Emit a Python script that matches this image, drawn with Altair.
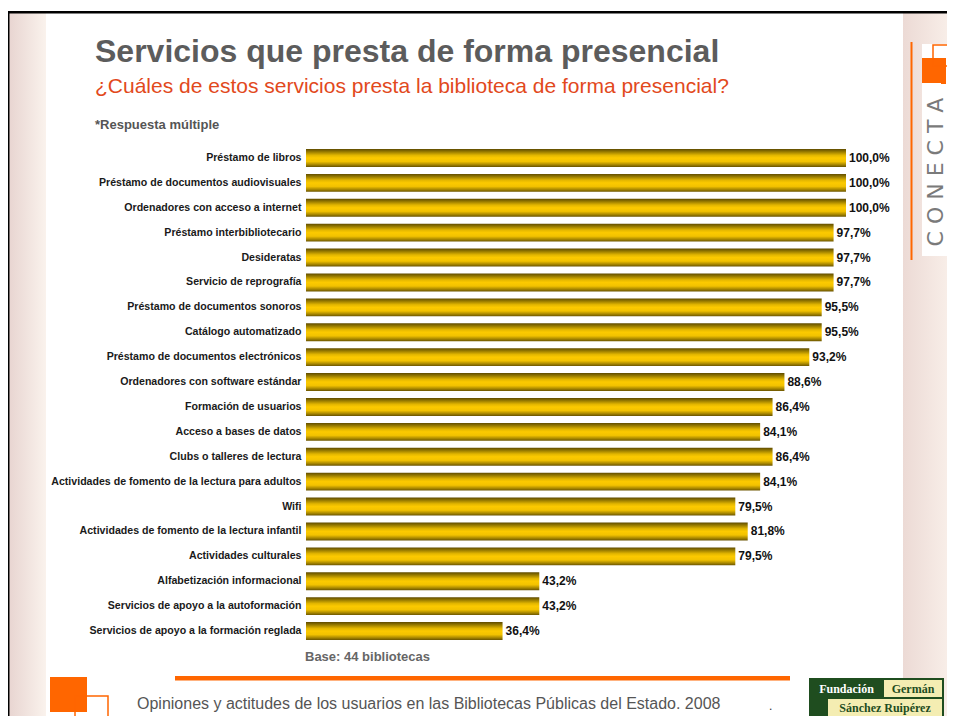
import altair as alt
import pandas as pd

# ---- data ----
categories = [
    "Préstamo de libros",
    "Préstamo de documentos audiovisuales",
    "Ordenadores con acceso a internet",
    "Préstamo interbibliotecario",
    "Desideratas",
    "Servicio de reprografía",
    "Préstamo de documentos sonoros",
    "Catálogo automatizado",
    "Préstamo de documentos electrónicos",
    "Ordenadores con software estándar",
    "Formación de usuarios",
    "Acceso a bases de datos",
    "Clubs o talleres de lectura",
    "Actividades de fomento de la lectura para adultos",
    "Wifi",
    "Actividades de fomento de la lectura infantil",
    "Actividades culturales",
    "Alfabetización informacional",
    "Servicios de apoyo a la autoformación",
    "Servicios de apoyo a la formación reglada",
]
values = [100.0, 100.0, 100.0, 97.7, 97.7, 97.7, 95.5, 95.5, 93.2, 88.6,
          86.4, 84.1, 86.4, 84.1, 79.5, 81.8, 79.5, 43.2, 43.2, 36.4]
value_labels = [f"{v:.1f}".replace(".", ",") + "%" for v in values]

title_text = "Servicios que presta de forma presencial"
subtitle_text = "¿Cuáles de estos servicios presta la biblioteca de forma presencial?"
note_text = "*Respuesta múltiple"
base_text = "Base: 44 bibliotecas"
footer_text = "Opiniones y actitudes de los usuarios en las Bibliotecas Públicas del Estado. 2008"

df = pd.DataFrame({"cat": categories, "val": values, "lab": value_labels})

# ---- layout helpers (page px -> plot px) ----
OX, OY = 306, 145.5
W, H = 540, 498
TOTAL_W, TOTAL_H = 939, 708
one = pd.DataFrame({"k": [0]})
FONT = "Liberation Sans"


def px(x):
    return x - OX


def py(y):
    return y - OY


def rect(x1, y1, x2, y2, color, filled=True, sw=1.5):
    kw = dict(color=color) if filled else dict(filled=False, stroke=color, strokeWidth=sw)
    return alt.Chart(one).mark_rect(**kw).encode(
        x=alt.value(px(x1)), x2=alt.value(px(x2)),
        y=alt.value(py(y1)), y2=alt.value(py(y2)))


def text(t, x, y, size, color, weight="normal", align="left", baseline="alphabetic",
         angle=0, font=FONT):
    kw = dict(text=t, fontSize=size, color=color, fontWeight=weight, align=align,
              baseline=baseline, font=font)
    if angle:
        kw["angle"] = angle
    return alt.Chart(one).mark_text(**kw).encode(x=alt.value(px(x)), y=alt.value(py(y)))


def hgrad(c1, c2):
    return alt.LinearGradient(gradient="linear", x1=0, x2=1, y1=0, y2=0,
                              stops=[alt.GradientStop(offset=0, color=c1),
                                     alt.GradientStop(offset=1, color=c2)])


gold = alt.LinearGradient(
    gradient="linear", x1=0, x2=0, y1=0, y2=1,
    stops=[
        alt.GradientStop(offset=0.0, color="#5f4b00"),
        alt.GradientStop(offset=0.12, color="#8a7000"),
        alt.GradientStop(offset=0.35, color="#e2b600"),
        alt.GradientStop(offset=0.5, color="#fcca00"),
        alt.GradientStop(offset=0.7, color="#f2c200"),
        alt.GradientStop(offset=0.88, color="#a58500"),
        alt.GradientStop(offset=1.0, color="#6a5400"),
    ],
)

# ---- background ----
bg = [
    rect(9, 13, 955, 724, "#f8efea"),
    rect(9, 13, 48, 724, hgrad("#e8d5d1", "#fbf4ee")),
    rect(903, 13, 955, 724, hgrad("#ecdad5", "#faf1eb")),
    rect(46, 13, 903, 724, "#ffffff"),
    rect(7, 11, 955, 13.5, "#000000"),
    rect(7, 11, 9.5, 724, "#000000"),
]

# ---- bars ----
y_enc = alt.Y("cat:N", sort=categories,
              scale=alt.Scale(paddingInner=0.28, paddingOuter=0.14),
              axis=alt.Axis(title=None, ticks=False, domain=False, labelPadding=5,
                            labelFont=FONT, labelFontSize=10.6, labelFontWeight="bold",
                            labelColor="#1a1a1a", labelLimit=400, zindex=2))
x_enc = alt.X("val:Q", scale=alt.Scale(domain=[0, 100], nice=False), axis=None)

bars = alt.Chart(df).mark_bar(color=gold).encode(x=x_enc, y=y_enc)
labels = alt.Chart(df).mark_text(align="left", baseline="middle", dx=3, font=FONT,
                                 fontSize=12, fontWeight="bold", color="#111111").encode(
    x=x_enc, y=y_enc, text="lab:N")

# ---- texts ----
texts = [
    text(title_text, 95, 62, 32, "#5c5c5c", weight="bold"),
    text(subtitle_text, 95, 93, 21, "#e2491c"),
    text(note_text, 95, 129, 13, "#555555", weight="bold"),
    text(base_text, 305, 661, 13, "#666666", weight="bold"),
    text(footer_text, 137, 709, 16, "#555555"),
    text(".", 769, 710, 12, "#333333"),
]

# ---- decorations ----
deco = [
    rect(175, 676, 790, 680.5, "#ff6600"),
    # right top CONECTA logo
    rect(910.5, 42, 912.5, 260, "#ff6600"),
    rect(922, 44, 955, 256, "#ffffff"),
    rect(922, 58, 946, 83, "#ff6600"),
    rect(933, 45, 956, 66, "#ff6600", filled=False),
    rect(941, 63, 946, 84, "#ff6600"),
    text("C O N E C T A", 936, 172, 22, "#7a7a7a", angle=270, align="center",
         baseline="middle", font="DejaVu Sans"),
    # bottom left logo
    rect(50, 677, 87, 712, "#ff6600"),
    rect(75, 696, 108, 726, "#ff6600", filled=False),
    rect(50, 718, 57.5, 724, "#ff6600"),
    rect(59, 718, 66, 724, "#ff6600"),
    rect(67.5, 718, 74.5, 724, "#ff6600"),
    rect(76, 718, 83, 724, "#ff6600"),
    # Fundación logo
    rect(809, 678, 944, 718, "#1f4d1f"),
    rect(884, 680, 942, 697, "#f4edb2"),
    rect(828, 699, 942, 716, "#f4edb2"),
    text("Fundación", 846.5, 693, 12, "#ffffff", weight="bold", align="center",
         font="Liberation Serif"),
    text("Germán", 913, 693, 12, "#1f4d1f", weight="bold", align="center",
         font="Liberation Serif"),
    text("Sánchez Ruipérez", 885, 712, 12, "#1f4d1f", weight="bold", align="center",
         font="Liberation Serif"),
]

chart = alt.layer(*bg, bars, labels, *texts, *deco).properties(
    width=W, height=H,
    padding={"left": OX - 8, "top": OY - 8, "right": TOTAL_W - (OX - 8) - W,
             "bottom": TOTAL_H - (OY - 8) - H},
    autosize=alt.AutoSizeParams(type="none"),
    background="#ffffff",
).configure_view(stroke=None)

chart.save("out.html", embed_options={"renderer": "svg", "actions": False})
